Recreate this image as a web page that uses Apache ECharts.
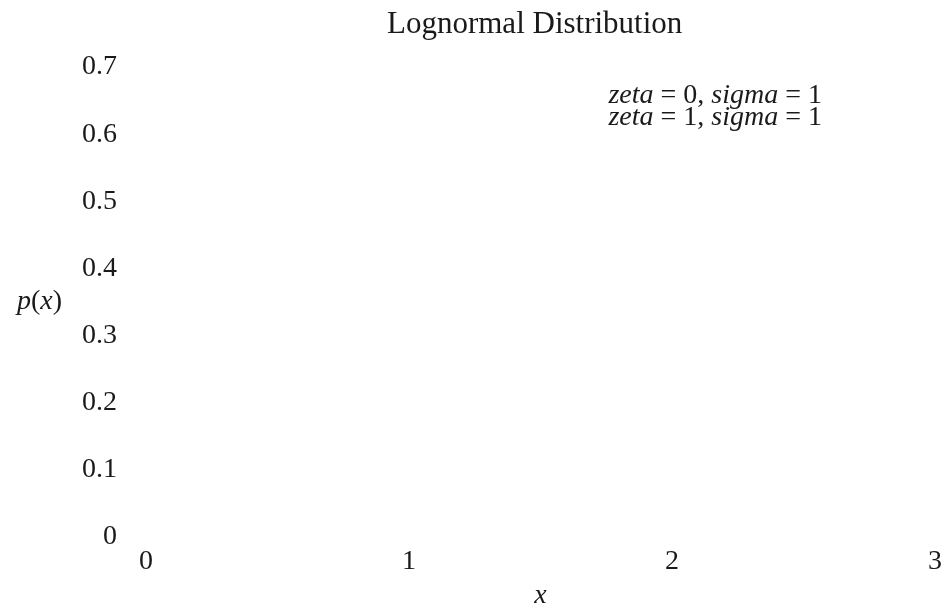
<!DOCTYPE html>
<html>
<head>
<meta charset="utf-8">
<script src="https://cdn.jsdelivr.net/npm/echarts@6/dist/echarts.min.js"></script>
<style>
html,body{margin:0;padding:0;background:#fff;}
#chart{width:946px;height:612px;}
</style>
</head>
<body>
<div id="chart"></div>
<script>
// Data: the reference shows no visible curves, only axes text and key labels.
const titleText = 'Lognormal Distribution';
const seriesNames = ['zeta = 0, sigma = 1', 'zeta = 1, sigma = 1'];
const seriesZeta0 = [];   // no points visible in the reference
const seriesZeta1 = [];   // no points visible in the reference
const xTicks = [0, 1, 2, 3];
const yTicks = [0, 0.1, 0.2, 0.3, 0.4, 0.5, 0.6, 0.7];

const FONT = '"Liberation Serif", "DejaVu Serif", serif';
const COLOR = '#1a1a1a';
const chart = echarts.init(document.getElementById('chart'), null, {renderer: 'canvas'});

function mathLabel(name) {
  // italicise word tokens, keep digits/operators upright
  return name.replace(/([a-z]+)/g, '{i|$1}').replace(/=/g, '{n|=}');
}

chart.setOption({
  animation: false,
  backgroundColor: '#ffffff',
  title: {
    text: titleText,
    left: 382,
    top: 4,
    textStyle: {fontFamily: FONT, fontSize: 31, fontWeight: 'normal', color: COLOR}
  },
  legend: {
    orient: 'vertical',
    right: 113,
    top: 77,
    itemWidth: 0,
    itemHeight: 0,
    itemGap: -6,
    align: 'right',
    data: seriesNames,
    formatter: mathLabel,
    textStyle: {
      fontFamily: FONT, fontSize: 28, color: COLOR, lineHeight: 21,
      rich: {
        i: {fontFamily: FONT, fontSize: 28, fontStyle: 'italic', color: COLOR, lineHeight: 21},
        n: {fontFamily: FONT, fontSize: 28, color: COLOR, lineHeight: 21}
      }
    }
  },
  grid: {left: 146, right: 11, top: 67, bottom: 75, containLabel: false, outerBoundsMode: 'none'},
  xAxis: {
    type: 'value',
    min: xTicks[0],
    max: xTicks[xTicks.length - 1],
    interval: 1,
    name: 'x',
    nameLocation: 'middle',
    nameGap: 45,
    nameTextStyle: {fontFamily: FONT, fontSize: 28, fontStyle: 'italic', color: COLOR},
    axisLine: {show: false},
    axisTick: {show: false},
    splitLine: {show: false},
    axisLabel: {
      margin: 11,
      fontFamily: FONT, fontSize: 28, color: COLOR,
      showMinLabel: true, showMaxLabel: true,
      formatter: v => String(v)
    }
  },
  yAxis: {
    type: 'value',
    min: yTicks[0],
    max: yTicks[yTicks.length - 1],
    interval: 0.1,
    name: '{i|p}{n|(}{i|x}{n|)}',
    nameLocation: 'middle',
    nameRotate: 0,
    nameGap: 84,
    nameTextStyle: {
      fontFamily: FONT, fontSize: 28, color: COLOR,
      rich: {
        i: {fontFamily: FONT, fontSize: 28, fontStyle: 'italic', color: COLOR},
        n: {fontFamily: FONT, fontSize: 28, color: COLOR}
      }
    },
    axisLine: {show: false},
    axisTick: {show: false},
    splitLine: {show: false},
    axisLabel: {
      margin: 29,
      fontFamily: FONT, fontSize: 28, color: COLOR,
      showMinLabel: true, showMaxLabel: true,
      formatter: v => (Math.round(v * 10) / 10).toString()
    }
  },
  series: [
    {name: seriesNames[0], type: 'line', data: seriesZeta0, showSymbol: false, lineStyle: {color: '#c00000', width: 2}, itemStyle: {color: '#c00000'}},
    {name: seriesNames[1], type: 'line', data: seriesZeta1, showSymbol: false, lineStyle: {color: '#00a000', width: 2}, itemStyle: {color: '#00a000'}}
  ]
});
</script>
</body>
</html>
